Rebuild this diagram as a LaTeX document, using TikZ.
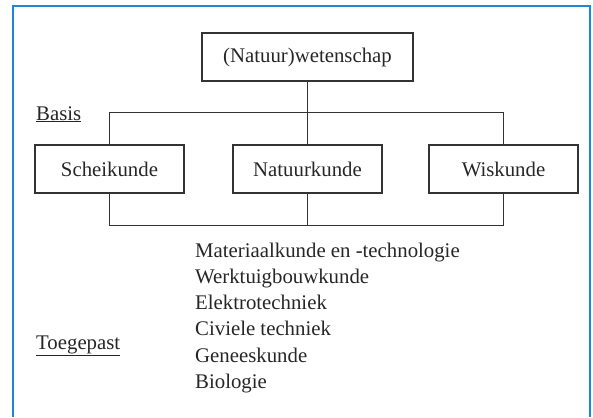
\documentclass[tikz,border=0pt]{standalone}
\usepackage{fontspec}
\setmainfont{Liberation Serif}
\begin{document}
\begin{tikzpicture}[x=1pt,y=-1pt,
  every node/.style={font=\fontsize{20.8}{26}\selectfont, text=black!85},
  boxed/.style={draw=black!80, line width=1.2pt, inner sep=0pt, minimum height=48pt},
  conn/.style={draw=black!80, line width=1.2pt},
  itemtext/.style={anchor=base west, inner sep=0pt}]
\useasboundingbox (0,0) rectangle (593,417);
\draw[color={rgb,255:red,30;green,136;blue,214}, line width=1.6pt] (13,417) -- (13,6) -- (590,6) -- (590,417);

\node[boxed, minimum width=211pt] (top) at (307.5,57) {(Natuur)wetenschap};
\node[boxed, minimum width=149pt] (sch) at (109.5,169) {Scheikunde};
\node[boxed, minimum width=149pt] (nat) at (307.5,169) {Natuurkunde};
\node[boxed, minimum width=149pt] (wis) at (503.5,169) {Wiskunde};

\draw[conn] (top.south) -- (nat.north);
\draw[conn] (sch.north) -- ++(0,-32) -| (wis.north);
\draw[conn] (sch.south) -- ++(0,32) -| (wis.south);
\draw[conn] (nat.south) -- ++(0,32);

\node[itemtext] (basis) at (36,120) {\underline{Basis}};
\node[itemtext] (toeg) at (36,349) {\underline{Toegepast}};

\node[itemtext] (l1) at (195,257) {Materiaalkunde en -technologie};
\node[itemtext] (l2) at (195,283.3) {Werktuigbouwkunde};
\node[itemtext] (l3) at (195,309.6) {Elektrotechniek};
\node[itemtext] (l4) at (195,335.9) {Civiele techniek};
\node[itemtext] (l5) at (195,362.2) {Geneeskunde};
\node[itemtext] (l6) at (195,388.5) {Biologie};
\end{tikzpicture}
\end{document}
